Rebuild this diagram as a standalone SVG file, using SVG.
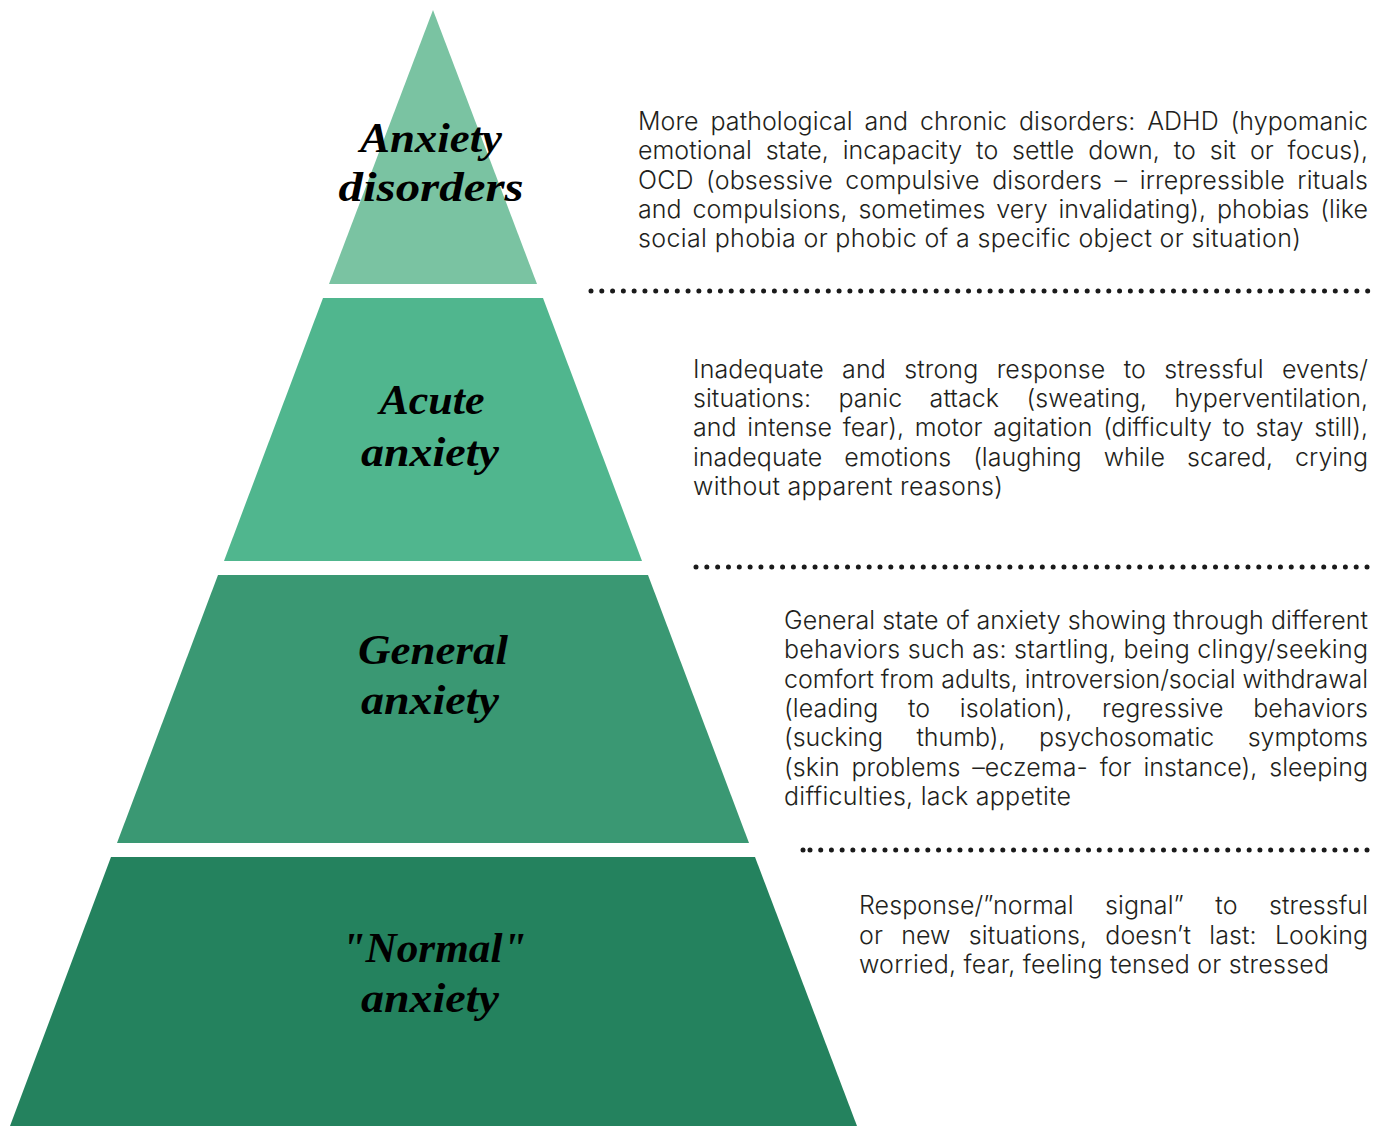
<svg xmlns="http://www.w3.org/2000/svg" width="1388" height="1126" viewBox="0 0 1388 1126">
  <style>
    .title { font-family: "Liberation Serif", "DejaVu Serif", serif; font-weight: bold; font-style: italic; font-size: 42px; fill: #000; text-anchor: middle; }
    .body { font-family: Inter, Roboto, "Liberation Sans", sans-serif; font-weight: 300; font-size: 25px; fill: #231f20; }
    .dots { stroke: #1a1a1a; stroke-width: 5; stroke-linecap: round; fill: none; }
  </style>
  <rect width="1388" height="1126" fill="#ffffff"/>

  <!-- Top tier -->
  <g id="tier-disorders">
    <polygon points="433,10 537,284 329,284" fill="#7ac3a2"/>
    <text class="title" x="431" y="152" textLength="142" lengthAdjust="spacingAndGlyphs">Anxiety</text>
    <text class="title" x="431" y="201" textLength="185" lengthAdjust="spacingAndGlyphs">disorders</text>
  </g>

  <!-- Second tier -->
  <g id="tier-acute">
    <polygon points="323,298 543,298 642,561 224,561" fill="#50b68e"/>
    <text class="title" x="432" y="414" textLength="105" lengthAdjust="spacingAndGlyphs">Acute</text>
    <text class="title" x="430" y="466" textLength="138" lengthAdjust="spacingAndGlyphs">anxiety</text>
  </g>

  <!-- Third tier -->
  <g id="tier-general">
    <polygon points="218,575 648,575 749,843 117,843" fill="#3a9873"/>
    <text class="title" x="433" y="664" textLength="150" lengthAdjust="spacingAndGlyphs">General</text>
    <text class="title" x="430" y="714" textLength="138" lengthAdjust="spacingAndGlyphs">anxiety</text>
  </g>

  <!-- Base tier -->
  <g id="tier-normal">
    <polygon points="111,857 755,857 857,1126 10,1126" fill="#24825e"/>
    <text class="title" x="434" y="962" textLength="185" lengthAdjust="spacingAndGlyphs">"Normal"</text>
    <text class="title" x="430" y="1012" textLength="138" lengthAdjust="spacingAndGlyphs">anxiety</text>
  </g>

  <!-- Descriptions (justified: word-spacing opens the gaps, textLength trims the rest) -->
  <g id="desc-disorders" class="body">
    <text x="638" y="130" word-spacing="4.8" textLength="730" lengthAdjust="spacing">More pathological and chronic disorders: ADHD (hypomanic</text>
    <text x="638" y="159" word-spacing="6.8" textLength="730" lengthAdjust="spacing">emotional state, incapacity to settle down, to sit or focus),</text>
    <text x="638" y="189" word-spacing="5.3" textLength="730" lengthAdjust="spacing">OCD (obsessive compulsive disorders – irrepressible rituals</text>
    <text x="638" y="218" word-spacing="3.6" textLength="730" lengthAdjust="spacing">and compulsions, sometimes very invalidating), phobias (like</text>
    <text x="638" y="247" textLength="663" lengthAdjust="spacing">social phobia or phobic of a specific object or situation)</text>
  </g>

  <g id="desc-acute" class="body">
    <text x="693" y="378" word-spacing="11.2" textLength="675" lengthAdjust="spacing">Inadequate and strong response to stressful events/</text>
    <text x="693" y="407" word-spacing="20.2" textLength="675" lengthAdjust="spacing">situations: panic attack (sweating, hyperventilation,</text>
    <text x="693" y="436" word-spacing="3.7" textLength="675" lengthAdjust="spacing">and intense fear), motor agitation (difficulty to stay still),</text>
    <text x="693" y="466" word-spacing="15" textLength="675" lengthAdjust="spacing">inadequate emotions (laughing while scared, crying</text>
    <text x="693" y="495" textLength="310" lengthAdjust="spacing">without apparent reasons)</text>
  </g>

  <g id="desc-general" class="body">
    <text x="784" y="629" textLength="584" lengthAdjust="spacing">General state of anxiety showing through different</text>
    <text x="784" y="658" textLength="584" lengthAdjust="spacing">behaviors such as: startling, being clingy/seeking</text>
    <text x="784" y="688" textLength="584" lengthAdjust="spacing">comfort from adults, introversion/social withdrawal</text>
    <text x="784" y="717" word-spacing="22.4" textLength="584" lengthAdjust="spacing">(leading to isolation), regressive behaviors</text>
    <text x="784" y="746" word-spacing="26.4" textLength="584" lengthAdjust="spacing">(sucking thumb), psychosomatic symptoms</text>
    <text x="784" y="776" word-spacing="4.7" textLength="584" lengthAdjust="spacing">(skin problems –eczema- for instance), sleeping</text>
    <text x="784" y="805" textLength="287" lengthAdjust="spacing">difficulties, lack appetite</text>
  </g>

  <g id="desc-normal" class="body">
    <text x="859" y="914" word-spacing="24.4" textLength="509" lengthAdjust="spacing">Response/”normal signal” to stressful</text>
    <text x="859" y="944" word-spacing="11.1" textLength="509" lengthAdjust="spacing">or new situations, doesn’t last: Looking</text>
    <text x="859" y="973" textLength="470" lengthAdjust="spacing">worried, fear, feeling tensed or stressed</text>
  </g>

  <!-- Dotted separators between tiers -->
  <g id="separators">
    <line class="dots" style="stroke-dasharray: 0 10.787" x1="591" y1="291" x2="1368.5" y2="291"/>
    <line class="dots" style="stroke-dasharray: 0 10.823" x1="696" y1="567" x2="1368.5" y2="567"/>
    <line class="dots" style="stroke-dasharray: 0 10.712" x1="810" y1="850" x2="1367.5" y2="850"/>
    <circle cx="803" cy="850" r="2.5" fill="#1a1a1a"/>
  </g>
</svg>
